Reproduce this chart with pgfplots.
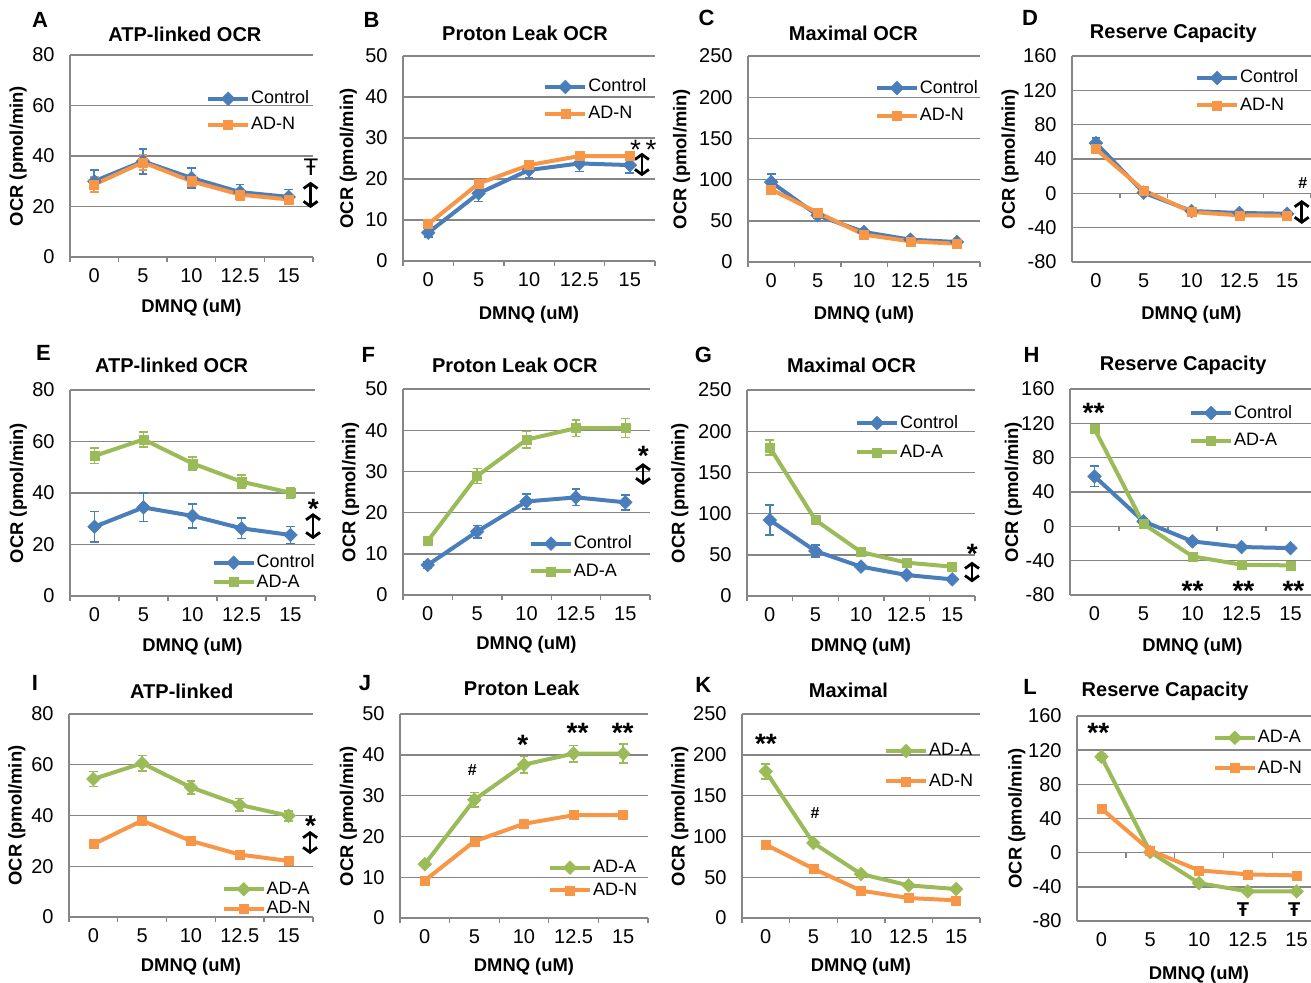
\documentclass[border=0pt]{standalone}
\usepackage{fontspec}
\setmainfont{Liberation Sans}
\usepackage{pgfplots}
\pgfplotsset{compat=1.18}
\usetikzlibrary{arrows.meta}

\definecolor{ctrl}{HTML}{4A7EBB}
\definecolor{adn}{HTML}{F79646}
\definecolor{ada}{HTML}{9BBB59}
\definecolor{axgray}{HTML}{868686}

\pgfplotsset{
  panel/.style={
    scale only axis, anchor=south west, clip=false,
    xmin=-0.5, xmax=4.5,
    xtick={0,...,4}, xticklabels={0,5,10,12.5,15},
    axis x line=bottom, axis y line=left,
    axis line style={-, draw=axgray, line width=0.7pt},
    ymajorgrids, grid style={draw=axgray, line width=0.7pt},
    major tick length=0pt,
    tick style={draw=axgray, line width=0.7pt},
    tick label style={font=\fontsize{10}{12}\selectfont},
    xticklabel style={anchor=north, inner sep=0pt, yshift=-5.5pt},
    yticklabel style={anchor=east, inner sep=0pt, xshift=-7.5pt},
    /pgf/number format/assume math mode=true,
    label style={font=\bfseries\fontsize{9.2}{11}\selectfont},
    title style={font=\bfseries\fontsize{10}{12}\selectfont},
    xlabel={DMNQ (uM)}, ylabel={OCR (pmol/min)},
    legend cell align=left,
    legend style={draw=none, fill=none, inner sep=0pt, outer sep=0pt,
      anchor=north west, font=\fontsize{9}{10}\selectfont,
      nodes={inner sep=0.5pt, text height=7pt, text depth=2pt}},
    legend image code/.code={\draw[mark repeat=2,mark phase=2,##1]
      plot coordinates {(0pt,0pt)(10pt,0pt)(20pt,0pt)};},
  },
  boundticks/.style={extra x ticks={-0.5,0.5,1.5,2.5,3.5,4.5},
    extra x tick labels={},
    extra x tick style={major tick length=2.5pt, tick align=outside}},
  ylx/.style={ylabel style={at={(axis description cs:-#1,0.5)}, anchor=center}},
  xly/.style={xlabel style={at={(axis description cs:0.5,0)}, anchor=center, yshift=-#1-1.5pt}},
  ttl/.style n args={3}{title={#1}, title style={at={(#2,1)}, anchor=center, yshift=#3-6pt}},
  eb/.style={error bars/.cd, y dir=both, y explicit,
    error bar style={line width=0.8pt, #1},
    error mark options={rotate=90, mark size=2.2pt, line width=0.8pt, #1}},
  diaS/.style={color=#1, line width=2pt, mark=square*, mark size=2.4pt,
    mark options={solid, rotate=45, fill=#1, draw=#1, line width=0.3pt}, eb=#1},
  sqS/.style={color=#1, line width=2pt, mark=square*, mark size=2.25pt,
    mark options={solid, fill=#1, draw=#1, line width=0.3pt}, eb=#1},
}

\tikzset{
  ann/.style={inner sep=0pt, font=\bfseries\fontsize{14}{14}\selectfont, yshift=-3pt},
  hsh/.style={inner sep=0pt, font=\bfseries\fontsize{8}{8}\selectfont},
  tst/.style={inner sep=0pt, font=\bfseries\fontsize{10}{10}\selectfont},
  darr/.style={{Straight Barb[length=2.5pt,width=7pt]}-{Straight Barb[length=2.5pt,width=7pt]}, line width=1.4pt, black},
  letter/.style={font=\bfseries\fontsize{11}{12}\selectfont},
}

\newcommand\zeroticks{\pgfplotsinvokeforeach{-0.5,0.5,1.5,2.5,3.5,4.5}{\draw[axgray,line width=0.7pt] (axis cs:##1,0) -- ++(0pt,-2.5pt);}}

\begin{document}
\begin{tikzpicture}
\path[use as bounding box] (0pt,0pt) rectangle (655.5pt,-491pt);

% panel letters
\node[letter] at (20pt,-10pt) {A};
\node[letter] at (185.8pt,-10pt) {B};
\node[letter] at (353.3pt,-9pt) {C};
\node[letter] at (515pt,-9pt) {D};
\node[letter] at (21.7pt,-176.7pt) {E};
\node[letter] at (184.2pt,-177.5pt) {F};
\node[letter] at (351.7pt,-177.5pt) {G};
\node[letter] at (515.8pt,-177.5pt) {H};
\node[letter] at (17.5pt,-341.7pt) {I};
\node[letter] at (182.5pt,-341.7pt) {J};
\node[letter] at (351.7pt,-342.5pt) {K};
\node[letter] at (515pt,-343.3pt) {L};

% ---------- row 1 ----------
\begin{axis}[panel, boundticks, at={(35pt,-128.5pt)}, width=121.5pt, height=101pt,
  ymin=0, ymax=80, ytick={0,20,...,80}, ylx=0.213, xly=24pt,
  ttl={ATP-linked OCR}{0.473}{10.5pt},
  legend style={at={(0.560,0.833)}, row sep=3pt}]
\addplot[diaS=ctrl] coordinates {(0,30.0) +- (0,4.5) (1,37.9) +- (0,5) (2,31.3) +- (0,4) (3,25.7) +- (0,3) (4,23.8) +- (0,3)};
\addplot[sqS=adn] coordinates {(0,28.7) +- (0,3) (1,37.5) +- (0,3) (2,30.0) +- (0,2) (3,24.7) +- (0,2) (4,22.8) +- (0,2)};
\legend{Control,AD-N}
\node[inner sep=0pt, font=\fontsize{12}{12}\selectfont] at (axis cs:4.46,35.6) {Ŧ};
\draw[darr] (axis cs:4.45,29.8) -- (axis cs:4.45,19.4);
\end{axis}

\begin{axis}[panel, boundticks, at={(201.5pt,-130.5pt)}, width=126pt, height=102.5pt,
  ymin=0, ymax=50, ytick={0,10,...,50}, ylx=0.217, xly=25.3pt,
  ttl={Proton Leak OCR}{0.484}{11.3pt},
  legend style={at={(0.557,0.898)}, row sep=3.35pt}]
\addplot[diaS=ctrl] coordinates {(0,6.9) +- (0,1) (1,16.5) +- (0,2) (2,22.2) +- (0,2) (3,23.8) +- (0,2) (4,23.4) +- (0,2)};
\addplot[sqS=adn] coordinates {(0,9.0) +- (0,0.8) (1,18.9) +- (0,0.8) (2,23.4) +- (0,0.8) (3,25.6) +- (0,0.8) (4,25.6) +- (0,0.8)};
\legend{Control,AD-N}
\node[ann, font=\fontsize{14}{14}\selectfont] at (axis cs:4.27,28.6) {*\,*};
\draw[darr] (axis cs:4.24,26.4) -- (axis cs:4.24,20.7);
\end{axis}

\begin{axis}[panel, boundticks, at={(374pt,-131pt)}, width=116pt, height=103pt,
  ymin=0, ymax=250, ytick={0,50,...,250}, ylx=0.286, xly=24.8pt,
  ttl={Maximal OCR}{0.454}{11.3pt},
  legend style={at={(0.547,0.893)}, row sep=3.85pt}]
\addplot[diaS=ctrl] coordinates {(0,97) +- (0,10) (1,56.6) +- (0,4) (2,36.4) +- (0,3) (3,27.1) +- (0,2) (4,24.3) +- (0,2)};
\addplot[sqS=adn] coordinates {(0,88) +- (0,6) (1,60) +- (0,3) (2,33.2) +- (0,2) (3,25.1) +- (0,2) (4,22.2) +- (0,2)};
\legend{Control,AD-N}
\end{axis}

\begin{axis}[panel, at={(536pt,-131pt)}, width=119.5pt, height=103pt,
  ymin=-80, ymax=160, ytick={-80,-40,...,160}, ylx=0.259, xly=24.8pt,
  ttl={Reserve Capacity}{0.424}{11.3pt},
  legend style={at={(0.515,0.942)}, row sep=3.7pt}]
\zeroticks
\addplot[diaS=ctrl] coordinates {(0,58.6) +- (0,6) (1,0.8) +- (0,3) (2,-20.6) +- (0,3) (3,-22.9) +- (0,2) (4,-23.7) +- (0,2)};
\addplot[sqS=adn] coordinates {(0,51.6) +- (0,4) (1,3.5) +- (0,2) (2,-21.7) +- (0,2) (3,-25.6) +- (0,2) (4,-26) +- (0,2)};
\legend{Control,AD-N}
\node[hsh] at (axis cs:4.33,12.4) {\#};
\draw[darr] (axis cs:4.305,-7.8) -- (axis cs:4.305,-35.7);
\end{axis}

% ---------- row 2 ----------
\begin{axis}[panel, boundticks, at={(35pt,-298pt)}, width=122.5pt, height=103pt,
  ymin=0, ymax=80, ytick={0,20,...,80}, ylx=0.211, xly=23.7pt,
  ttl={ATP-linked OCR}{0.415}{12.5pt},
  legend style={at={(0.578,0.210)}, row sep=-0.3pt}]
\addplot[diaS=ctrl] coordinates {(0,26.9) +- (0,6) (1,34.4) +- (0,5.5) (2,31.1) +- (0,4.7) (3,26.3) +- (0,4) (4,23.7) +- (0,3.3)};
\addplot[sqS=ada] coordinates {(0,54.4) +- (0,3) (1,60.8) +- (0,3) (2,51.5) +- (0,2.5) (3,44.4) +- (0,2.5) (4,40.1) +- (0,2)};
\legend{Control,AD-A}
\node[ann] at (axis cs:4.465,36) {*};
\draw[darr] (axis cs:4.46,32.2) -- (axis cs:4.46,22.1);
\end{axis}

\begin{axis}[panel, boundticks, at={(201.5pt,-297.5pt)}, width=123.5pt, height=103pt,
  ymin=0, ymax=50, ytick={0,10,...,50}, ylx=0.212, xly=23.3pt,
  ttl={Proton Leak OCR}{0.453}{12pt},
  legend style={at={(0.510,0.298)}, row sep=3.85pt}]
\addplot[diaS=ctrl] coordinates {(0,7.3) +- (0,0.8) (1,15.4) +- (0,1.5) (2,22.7) +- (0,1.8) (3,23.7) +- (0,2) (4,22.5) +- (0,1.8)};
\addplot[sqS=ada] coordinates {(0,13.1) +- (0,0.5) (1,28.9) +- (0,1.8) (2,37.7) +- (0,2) (3,40.5) +- (0,2) (4,40.5) +- (0,2.3)};
\legend{Control,AD-A}
\node[ann] at (axis cs:4.364,35.2) {*};
\draw[darr] (axis cs:4.358,32) -- (axis cs:4.358,26.7);
\end{axis}

\begin{axis}[panel, boundticks, at={(373.5pt,-298pt)}, width=114pt, height=103pt,
  ymin=0, ymax=250, ytick={0,50,...,250}, ylx=0.294, xly=23.7pt,
  ttl={Maximal OCR}{0.459}{12.5pt},
  legend style={at={(0.474,0.888)}, row sep=4.7pt}]
\addplot[diaS=ctrl] coordinates {(0,92.2) +- (0,18) (1,54.6) +- (0,7) (2,35.6) +- (0,3) (3,25.5) +- (0,2) (4,20.2) +- (0,2)};
\addplot[sqS=ada] coordinates {(0,180.4) +- (0,9) (1,92.2) +- (0,3) (2,53.4) +- (0,2) (3,40.5) +- (0,2) (4,35.6) +- (0,2)};
\legend{Control,AD-A}
\node[ann] at (axis cs:4.441,57.9) {*};
\draw[darr] (axis cs:4.434,41.6) -- (axis cs:4.434,16.6);
\end{axis}

\begin{axis}[panel, at={(535pt,-297.5pt)}, width=122.5pt, height=103pt,
  ymin=-80, ymax=160, ytick={-80,-40,...,160}, ylx=0.231, xly=24.2pt,
  ttl={Reserve Capacity}{0.462}{12pt},
  legend style={at={(0.486,0.932)}, row sep=3.85pt}]
\zeroticks
\addplot[diaS=ctrl] coordinates {(0,58.3) +- (0,12) (1,5.8) +- (0,3) (2,-17.5) +- (0,3) (3,-24.1) +- (0,2) (4,-25.3) +- (0,2)};
\addplot[sqS=ada] coordinates {(0,113.6) +- (0,5) (1,2.7) +- (0,2) (2,-35) +- (0,2) (3,-44.7) +- (0,2) (4,-45.5) +- (0,2)};
\legend{Control,AD-A}
\node[ann] at (axis cs:-0.02,139.4) {**};
\node[ann] at (axis cs:2,-68.3) {**};
\node[ann] at (axis cs:3.04,-68.3) {**};
\node[ann] at (axis cs:4.06,-68.3) {**};
\end{axis}

% ---------- row 3 ----------
\begin{axis}[panel, boundticks, at={(34.5pt,-458.5pt)}, width=122pt, height=101.5pt,
  ymin=0, ymax=80, ytick={0,20,...,80}, ylx=0.214, xly=23.2pt,
  ttl={ATP-linked}{0.462}{11.2pt},
  legend style={at={(0.626,0.186)}, row sep=-0.3pt}]
\addplot[diaS=ada] coordinates {(0,54.4) +- (0,3) (1,60.6) +- (0,3) (2,51.1) +- (0,2.5) (3,44.2) +- (0,2.5) (4,39.9) +- (0,2)};
\addplot[sqS=adn] coordinates {(0,28.7) +- (0,1.5) (1,38) +- (0,1.5) (2,30) +- (0,1) (3,24.6) +- (0,1) (4,22.1) +- (0,1)};
\legend{AD-A,AD-N}
\node[ann] at (axis cs:4.453,38.2) {*};
\draw[darr] (axis cs:4.44,33.9) -- (axis cs:4.44,24.8);
\end{axis}

\begin{axis}[panel, boundticks, at={(200pt,-459pt)}, width=124pt, height=102pt,
  ymin=0, ymax=50, ytick={0,10,...,50}, ylx=0.208, xly=22.7pt,
  ttl={Proton Leak}{0.491}{12.8pt},
  legend style={at={(0.597,0.296)}, row sep=1.35pt}]
\addplot[diaS=ada] coordinates {(0,13.2) +- (0,0.5) (1,29) +- (0,1.8) (2,37.6) +- (0,2) (3,40.3) +- (0,2) (4,40.3) +- (0,2.3)};
\addplot[sqS=adn] coordinates {(0,9.2) +- (0,0.6) (1,18.8) +- (0,0.6) (2,23.1) +- (0,0.6) (3,25.2) +- (0,0.6) (4,25.2) +- (0,0.6)};
\legend{AD-A,AD-N}
\node[hsh] at (axis cs:0.958,36.3) {\#};
\node[ann] at (axis cs:1.974,44) {*};
\node[ann] at (axis cs:3.08,46.9) {**};
\node[ann] at (axis cs:3.99,46.9) {**};
\end{axis}

\begin{axis}[panel, boundticks, at={(371pt,-459pt)}, width=119pt, height=102pt,
  ymin=0, ymax=250, ytick={0,50,...,250}, ylx=0.261, xly=22.7pt,
  ttl={Maximal}{0.447}{12pt},
  legend style={at={(0.597,0.868)}, row sep=5.2pt}]
\addplot[diaS=ada] coordinates {(0,179.7) +- (0,9) (1,91.9) +- (0,3) (2,53.9) +- (0,2) (3,40) +- (0,2) (4,35.5) +- (0,2)};
\addplot[sqS=adn] coordinates {(0,89.9) +- (0,4) (1,60.5) +- (0,2) (2,33.5) +- (0,2) (3,24.5) +- (0,2) (4,21.7) +- (0,2)};
\legend{AD-A,AD-N}
\node[ann] at (axis cs:0.004,220.2) {**};
\node[hsh] at (axis cs:1.034,128.3) {\#};
\end{axis}

\begin{axis}[panel, at={(538.5pt,-460.5pt)}, width=122pt, height=102.5pt,
  ymin=-80, ymax=160, ytick={-80,-40,...,160}, ylx=0.247, xly=25.3pt,
  ttl={Reserve Capacity}{0.361}{12.2pt},
  legend style={at={(0.557,0.943)}, row sep=5.2pt}]
\zeroticks
\addplot[diaS=ada] coordinates {(0,112.2) +- (0,4) (1,0.8) +- (0,2) (2,-35.6) +- (0,2) (3,-45.3) +- (0,2) (4,-45.3) +- (0,2)};
\addplot[sqS=adn] coordinates {(0,51.6) +- (0,3) (1,2.7) +- (0,2) (2,-20.7) +- (0,2) (3,-25.4) +- (0,2) (4,-26.6) +- (0,2)};
\legend{AD-A,AD-N}
\node[ann] at (axis cs:-0.064,147.5) {**};
\node[tst] at (axis cs:2.9,-67.1) {Ŧ};
\node[tst] at (axis cs:3.95,-67.1) {Ŧ};
\end{axis}
\end{tikzpicture}
\end{document}
